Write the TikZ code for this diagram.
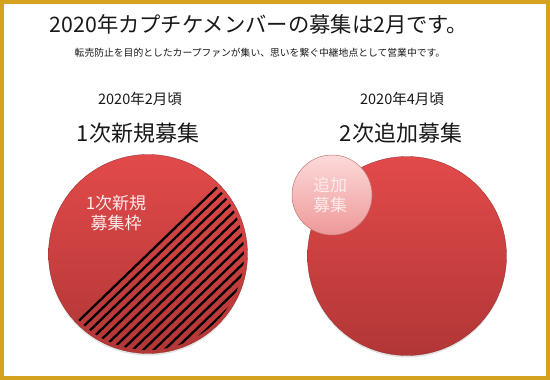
\documentclass[tikz,border=0pt]{standalone}
\usepackage{fontspec}
\setmainfont{Noto Sans CJK JP}
\usetikzlibrary{shadows}
\definecolor{gold}{RGB}{212,162,30}
\definecolor{redtop}{RGB}{226,74,74}
\definecolor{redbot}{RGB}{178,54,54}
\definecolor{pinktop}{RGB}{252,218,218}
\definecolor{pinkbot}{RGB}{238,152,152}
\definecolor{pinkedge}{RGB}{196,118,118}
\definecolor{softwhite}{RGB}{253,234,234}
\definecolor{ink}{RGB}{25,25,25}
\begin{document}
\begin{tikzpicture}[x=1pt,y=-1pt,
  bigcircle/.style={circle, minimum size=199pt, inner sep=0pt, top color=redtop, bottom color=redbot, draw=redbot!80!black, line width=0.3pt,
     drop shadow={opacity=0.22, shadow xshift=0pt, shadow yshift=-2pt}},
  smallcircle/.style={circle, minimum size=80pt, inner sep=0pt, top color=pinktop, bottom color=pinkbot, draw=pinkedge, line width=0.5pt},
  titletext/.style={text=ink, inner sep=0pt, font=\fontsize{21.3}{24}\selectfont},
  subtext/.style={text=ink, inner sep=0pt, font=\fontsize{9.8}{12}\selectfont},
  datetext/.style={text=ink, inner sep=0pt, font=\fontsize{14.5}{17}\selectfont},
  headtext/.style={text=ink, inner sep=0pt, font=\fontsize{22}{25}\selectfont},
  intext/.style={text=softwhite, inner sep=0pt, align=center, font=\fontsize{17}{20}\selectfont},
  stripe/.style={black, line width=2.3pt}
]
\useasboundingbox (0,0) rectangle (550,380);
\fill[white] (0,0) rectangle (550,380);
\draw[gold, line width=4pt] (2,2) rectangle (548,378);

% titles
\node[titletext] (title) at (259,24) {2020年カプチケメンバーの募集は2月です。};
\node[subtext] (sub) at (260,53) {転売防止を目的としたカープファンが集い、思いを繋ぐ中継地点として営業中です。};

\node[datetext] (d1) at (140,99) {2020年2月頃};
\node[headtext] (h1) at (138,133) {1次新規募集};
\node[datetext] (d2) at (402,99) {2020年4月頃};
\node[headtext] (h2) at (401,133) {2次追加募集};

% left circle
\node[bigcircle] (lc) at (148,254) {};
\begin{scope}
  \clip (lc.center) circle (96);
  \begin{scope}[shift={(lc.center)}, rotate=44]
    \foreach \k in {0,...,13} {
      \draw[stripe] (-120,{\k*7.3}) -- (120,{\k*7.3});
    }
  \end{scope}
\end{scope}
\node[intext] (lt) at (116,213) {1次新規\\募集枠};

% right circle
\node[bigcircle] (rc) at (407,256) {};
\node[smallcircle] (pc) at (332,195) {};
\node[intext] (pt) at (330,195) {追加\\募集};
\end{tikzpicture}
\end{document}
